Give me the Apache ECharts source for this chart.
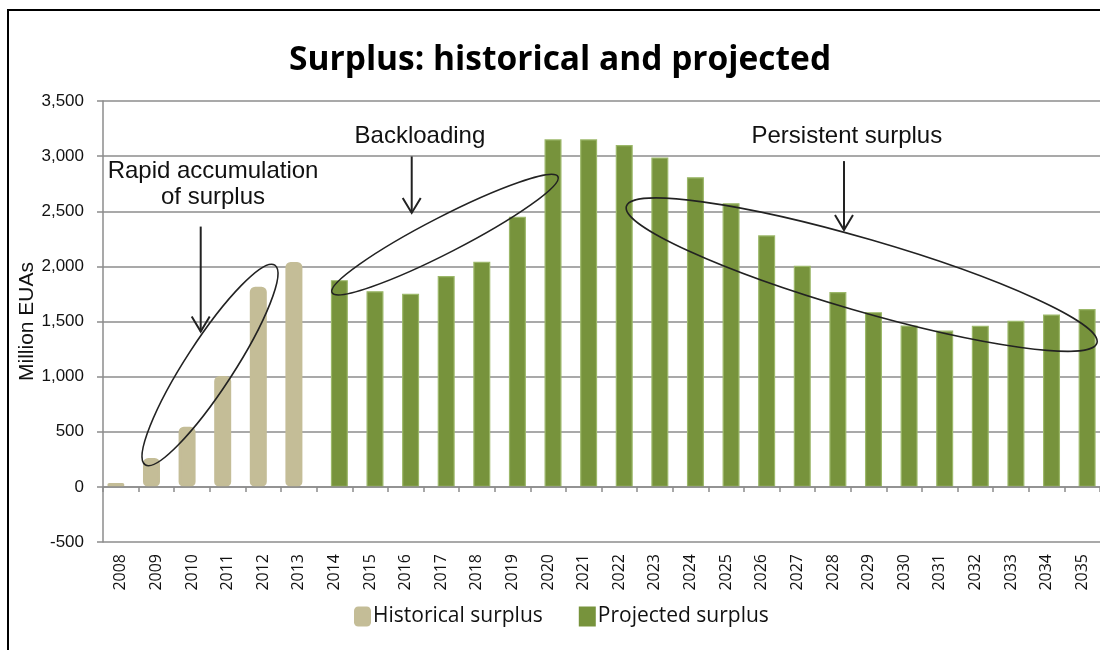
<!DOCTYPE html>
<html><head><meta charset="utf-8">
<script src="https://cdn.jsdelivr.net/npm/echarts@6/dist/echarts.min.js"></script>
<style>html,body{margin:0;padding:0;background:#fff}#c{width:1100px;height:650px}</style>
</head><body><div id="c"></div>
<script>
// ---- data ----
const years = ['2008','2009','2010','2011','2012','2013','2014','2015','2016','2017','2018','2019','2020','2021','2022','2023','2024','2025','2026','2027','2028','2029','2030','2031','2032','2033','2034','2035'];
const historicalYears = ['2008','2009','2010','2011','2012','2013'];
const historicalValues = [35, 262, 545, 1005, 1815, 2040];
const projectedYears = ['2014','2015','2016','2017','2018','2019','2020','2021','2022','2023','2024','2025','2026','2027','2028','2029','2030','2031','2032','2033','2034','2035'];
const projectedValues = [1875, 1775, 1752, 1912, 2043, 2449, 3152, 3152, 3100, 2988, 2809, 2573, 2282, 2006, 1767, 1585, 1464, 1418, 1461, 1506, 1564, 1613];
const yMin = -500, yMax = 3500, yStep = 500;
const seriesNames = ['Historical surplus', 'Projected surplus'];
const titleText = 'Surplus: historical and projected';
const yAxisName = 'Million EUAs';
// annotations anchored in data space (fractional category index, value)
const annotationLabels = [
  {text: 'Rapid accumulation\nof surplus', idx: 2.59, val: 2740},
  {text: 'Backloading', idx: 8.4, val: 3179},
  {text: 'Persistent surplus', idx: 20.39, val: 3179}
];
const annotationEllipses = [
  {idx: 2.505, val: 1106, rx: 119, ry: 24, deg: 57},
  {idx: 9.105, val: 2288, rx: 127, ry: 18, deg: 27.2},
  {idx: 20.807, val: 1925, rx: 245, ry: 36, deg: -16.2}
];
const annotationArrows = [
  {idx: 2.244, top: 2361, tip: 1409},
  {idx: 8.17, top: 2997, tip: 2485},
  {idx: 20.31, top: 2955, tip: 2329}
];

// ---- build ----
const histData = years.map(y => { const i = historicalYears.indexOf(y); return i >= 0 ? historicalValues[i] : '-'; });
const projData = years.map(y => { const i = projectedYears.indexOf(y); return i >= 0 ? projectedValues[i] : '-'; });

const HIST = '#C4BD97', PROJ = '#77933C', GRID = '#8c8c8c';
const chart = echarts.init(document.getElementById('c'));
chart.setOption({
  animation: false,
  backgroundColor: '#fff',
  title: {
    text: titleText, left: 284, top: 38,
    textStyle: {fontFamily: 'Open Sans', fontWeight: 'bold', fontSize: 33.5, color: '#000'}
  },
  grid: {left: 103, right: 0, top: 101, bottom: 108},
  legend: {
    left: 349, top: 601, itemGap: 36, itemWidth: 17, itemHeight: 20,
    textStyle: {fontFamily: 'Open Sans', fontSize: 21, color: '#111', padding: [0, 0, 0, -3]},
    data: [{name: seriesNames[0], icon: 'roundRect'}, {name: seriesNames[1], icon: 'rect'}],
    itemStyle: {borderWidth: 0}
  },
  xAxis: {
    type: 'category', data: years,
    axisLine: {onZero: true, lineStyle: {color: GRID, width: 1.5}},
    axisTick: {show: true, alignWithLabel: false, length: 5, lineStyle: {color: GRID, width: 1.5}},
    axisLabel: {rotate: 90, margin: 12, fontFamily: 'Open Sans', fontSize: 16, color: '#111', interval: 0},
    z: 5
  },
  yAxis: {
    type: 'value', min: yMin, max: yMax, interval: yStep,
    name: yAxisName, nameLocation: 'middle', nameGap: 65, nameMoveOverlap: false,
    nameTextStyle: {fontFamily: 'Liberation Sans', fontSize: 21, color: '#111'},
    axisLine: {show: true, lineStyle: {color: GRID, width: 1.5}},
    axisTick: {show: true, length: 6, lineStyle: {color: GRID, width: 1.5}},
    axisLabel: {margin: 19, fontFamily: 'Liberation Sans', fontSize: 17, color: '#111',
      formatter: v => v.toLocaleString('en-US')},
    splitLine: {lineStyle: {color: GRID, width: 1.5}}
  },
  series: [
    {name: seriesNames[0], type: 'bar', data: histData, barWidth: 17, barGap: '-42%',
      itemStyle: {color: HIST, borderColor: HIST, borderWidth: 2.5, borderRadius: 4}},
    {name: seriesNames[1], type: 'bar', data: projData, barWidth: 17, barGap: '-42%',
      itemStyle: {color: PROJ, borderColor: '#9cb86a', borderWidth: 1.2}}
  ]
});

const p0 = chart.convertToPixel({xAxisIndex: 0, yAxisIndex: 0}, [0, 0]);
const p1 = chart.convertToPixel({xAxisIndex: 0, yAxisIndex: 0}, [1, 0]);
function px(idx, val) {
  const yy = chart.convertToPixel({yAxisIndex: 0}, val);
  return [p0[0] + (p1[0] - p0[0]) * idx, yy];
}
const g = [];
g.push({type: 'rect', shape: {x: 8, y: 10, width: 1200, height: 800}, style: {fill: 'none', stroke: '#000', lineWidth: 2}, z: 100, silent: true});
annotationEllipses.forEach(e => {
  const p = px(e.idx, e.val);
  g.push({type: 'ellipse', x: p[0], y: p[1], rotation: e.deg * Math.PI / 180,
    shape: {cx: 0, cy: 0, rx: e.rx, ry: e.ry},
    style: {fill: 'none', stroke: '#222', lineWidth: 1.6}, z: 100, silent: true});
});
annotationArrows.forEach(a => {
  const t = px(a.idx, a.top), h = px(a.idx, a.tip);
  g.push({type: 'line', shape: {x1: t[0], y1: t[1], x2: h[0], y2: h[1]}, style: {stroke: '#222', lineWidth: 2}, z: 100, silent: true});
  g.push({type: 'polyline', shape: {points: [[h[0] - 9, h[1] - 15], [h[0], h[1]], [h[0] + 9, h[1] - 15]]}, style: {fill: 'none', stroke: '#222', lineWidth: 2}, z: 100, silent: true});
});
annotationLabels.forEach(l => {
  const p = px(l.idx, l.val);
  g.push({type: 'text', x: p[0], y: p[1], style: {text: l.text, align: 'center', verticalAlign: 'middle',
    fontFamily: 'Liberation Sans', fontSize: 24, lineHeight: 26, fill: '#111'}, z: 100, silent: true});
});
chart.setOption({graphic: g});
</script></body></html>
